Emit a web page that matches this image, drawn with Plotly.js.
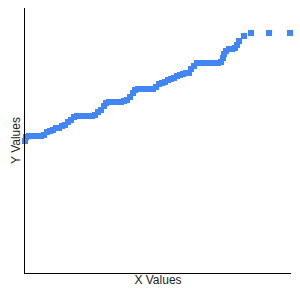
<!DOCTYPE html>
<html>
<head>
<meta charset="utf-8">
<script src="https://cdn.plot.ly/plotly-3.0.1.min.js"></script>
<style>html,body{margin:0;padding:0;background:#fff;}#chart{width:300px;height:300px;}</style>
</head>
<body>
<div id="chart"></div>
<script>
var xValues = [0,1,4,7,10,13,16,19,22,25,28,31,34,37,40,43,46,49,52,55,58,61,64,67,70,73,76,79,81,84,87,90,93,96,99,102,105,108,110,113,116,119,122,125,128,131,134,137,140,143,146,149,152,155,158,161,164,166,169,172,175,178,181,184,187,190,193,196,198,199,201,204,207,210,212,214,219,226,244,265];
var yValues = [132,136,137,137,137,137,137,138,141,142,143,145,145,147,148,151,153,156,157,157,157,157,157,157,158,161,163,167,170,171,171,171,171,171,172,173,176,180,183,184,184,184,184,184,184,186,189,190,191,193,194,195,197,198,199,200,200,204,207,210,210,210,210,210,210,210,210,211,215,219,222,224,224,225,228,232,237,240,240,240];
var xTitle = "X Values";
var yTitle = "Y Values";

var trace = {
  x: xValues, y: yValues, type: 'scatter', mode: 'markers',
  marker: {symbol: 'square', size: 6, color: '#4285f4'},
  cliponaxis: false, hoverinfo: 'none'
};
var axisCommon = {
  showline: true, linecolor: '#000', linewidth: 1, mirror: false,
  showgrid: false, zeroline: false, ticks: '', showticklabels: false
};
var layout = {
  width: 300, height: 300,
  margin: {l: 25, r: 9, t: 8, b: 27, pad: 0},
  paper_bgcolor: '#fff', plot_bgcolor: '#fff',
  showlegend: false,
  font: {family: 'Liberation Sans, Arial, sans-serif', size: 12, color: '#222'},
  xaxis: Object.assign({}, axisCommon, {range: [0, 266], title: {text: xTitle, standoff: 2, font: {size: 12}}}),
  yaxis: Object.assign({}, axisCommon, {range: [0, 265], title: {text: yTitle, standoff: 0, font: {size: 12}}})
};
Plotly.newPlot('chart', [trace], layout, {staticPlot: true, displayModeBar: false});
</script>
</body>
</html>
